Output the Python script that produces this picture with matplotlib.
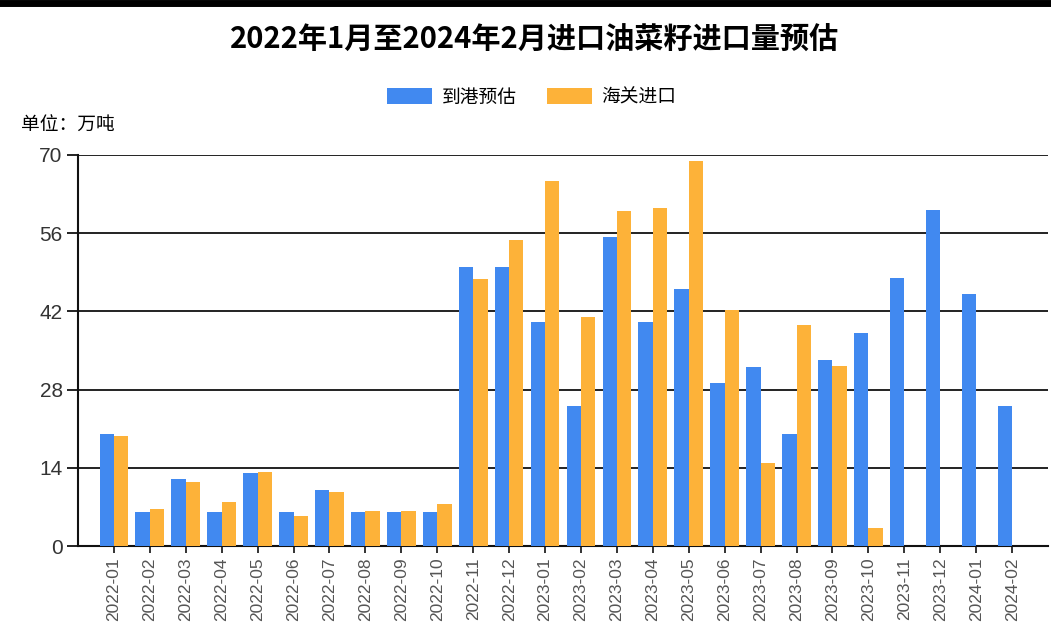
import matplotlib
matplotlib.use('Agg')
import matplotlib.pyplot as plt
import numpy as np

plt.rcParams['font.family'] = ['Noto Sans CJK SC', 'DejaVu Sans']

months = ['2022-01', '2022-02', '2022-03', '2022-04', '2022-05', '2022-06',
          '2022-07', '2022-08', '2022-09', '2022-10', '2022-11', '2022-12',
          '2023-01', '2023-02', '2023-03', '2023-04', '2023-05', '2023-06',
          '2023-07', '2023-08', '2023-09', '2023-10', '2023-11', '2023-12',
          '2024-01', '2024-02']

# 到港预估
arrival = [20, 6, 12, 6, 13, 6, 10, 6, 6, 6, 50, 50,
           40, 25, 55.3, 40, 46, 29.1, 32, 20, 33.2, 38.2, 48, 60.2,
           45.1, 25.1]

# 海关进口 (no data after 2023-10)
customs = [19.6, 6.6, 11.5, 7.9, 13.2, 5.4, 9.7, 6.3, 6.3, 7.6, 47.7, 54.7,
           65.4, 41, 59.9, 60.5, 68.9, 42.2, 14.9, 39.6, 32.3, 3.3]

blue = '#4189F0'
orange = '#FDB239'

fig = plt.figure(figsize=(10.51, 6.38), dpi=100)
ax = fig.add_axes([0.0742, 0.1442, 0.923, 0.6131])

x = np.arange(len(months))
w = 0.4
ax.bar(x - w / 2, arrival, width=w, color=blue, label='到港预估', zorder=3)
ax.bar(np.arange(len(customs)) + w / 2, customs, width=w, color=orange,
       label='海关进口', zorder=3)

ax.set_ylim(0, 70)
ax.set_yticks([0, 14, 28, 42, 56, 70])
ax.set_xlim(-1, 26)
ax.set_xticks(x)
ax.set_xticklabels(months, rotation=90, fontsize=12.5, color='#555555',
                   family=['Liberation Sans', 'DejaVu Sans'])

ax.grid(axis='y', color='#111111', linewidth=1.3, zorder=1)
ax.tick_params(axis='y', length=8, width=1.3, color='#111111', pad=3,
               labelsize=15, labelcolor='#333333')
ax.tick_params(axis='x', length=5, width=1.2, color='#111111', pad=3)
for lab in ax.get_yticklabels():
    lab.set_family(['Liberation Sans', 'DejaVu Sans'])

for s in ['top', 'right']:
    ax.spines[s].set_visible(False)
ax.spines['left'].set_color('#111111')
ax.spines['left'].set_linewidth(1.5)
ax.spines['bottom'].set_color('#111111')
ax.spines['bottom'].set_linewidth(1.5)

fig.text(0.509, 0.937, '2022年1月至2024年2月进口油菜籽进口量预估',
         ha='center', va='center', fontsize=21, fontweight='bold')
fig.text(0.02, 0.804, '单位：万吨', ha='left', va='center', fontsize=13.5)

fig.legend(loc='center', bbox_to_anchor=(0.506, 0.848), ncol=2, frameon=False,
           fontsize=13.5, handlelength=2.4, handleheight=1.0, columnspacing=1.6,
           handletextpad=0.5)

# black band along the top edge of the image
fig.add_artist(plt.Line2D([0, 1], [0.996, 0.996], color='black',
                          linewidth=5, transform=fig.transFigure))

fig.savefig('out.png', dpi=100)
